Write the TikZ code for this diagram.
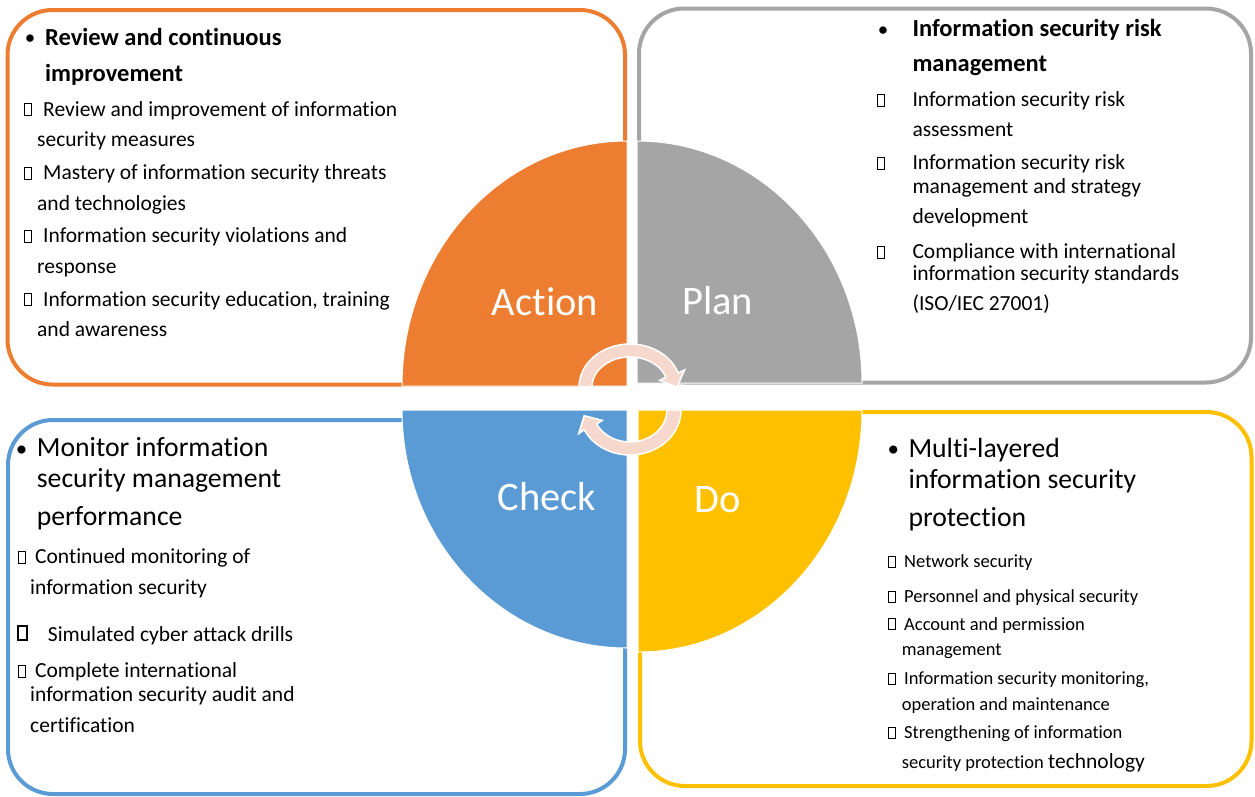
\documentclass[tikz,border=0pt]{standalone}
\usepackage{fontspec}
\setmainfont{Carlito}[Ligatures=NoCommon]
\definecolor{cOrange}{HTML}{ED7D31}
\definecolor{cGray}{HTML}{A5A5A5}
\definecolor{cBlue}{HTML}{5B9BD5}
\definecolor{cYellow}{HTML}{FFC000}
\definecolor{cArrow}{HTML}{F6D8CD}
\begin{document}
\begin{tikzpicture}[x=1pt,y=-1pt,
  boxframe/.style={line width=4pt, rounded corners=45pt, fill=white},
  quad/.style={draw=white, line width=1pt},
  lbl/.style={text=white, font=\fontsize{40.5}{48}\selectfont, anchor=base, inner sep=0},
  hb/.style={anchor=base west, inner sep=0, font=\bfseries\fontsize{24.5}{29}\selectfont},
  hr/.style={anchor=base west, inner sep=0, font=\fontsize{27.7}{33}\selectfont},
  tx/.style={anchor=base west, inner sep=0, font=\fontsize{21.5}{26}\selectfont},
  ts/.style={anchor=base west, inner sep=0, font=\fontsize{18.5}{22}\selectfont},
  bulb/.style={anchor=base, inner sep=0, font=\fontsize{21}{25}\selectfont},
  bulr/.style={anchor=base, inner sep=0, font=\fontsize{23}{27}\selectfont},
  gl/.style={draw, line width=0.8pt, minimum width=7pt, minimum height=12pt, inner sep=0, anchor=south},
  arr/.style={fill=cArrow, draw=white, line width=1.5pt, line join=miter}
]
\useasboundingbox (0,0) rectangle (1255,796);
\fill[white] (0,0) rectangle (1255,796);

% frames
\draw[boxframe, draw=cOrange] (7.5,10) rectangle (625,384.5);
\draw[boxframe, draw=cGray] (639,8.5) rectangle (1251,382.5);
\draw[boxframe, draw=cBlue] (8,420) rectangle (625,794);
\draw[boxframe, draw=cYellow] (640,412) rectangle (1251.5,786);

% quadrants
\draw[quad, fill=cOrange] (627,386) -- (402,386) arc (180:270:225 and 245) -- cycle;
\draw[quad, fill=cGray] (637,383) -- (637,141) arc (270:360:225 and 242) -- cycle;
\draw[quad, fill=cBlue] (627,410) -- (402,410) arc (180:90:225 and 238) -- cycle;
\draw[quad, fill=cYellow] (638,410) -- (862,410) arc (0:90:224 and 242) -- cycle;

\node[lbl] (lAction) at (545,315) {Action};
\node[lbl] (lPlan) at (717.5,314.3) {Plan};
\node[lbl] (lCheck) at (546.7,510) {Check};
\node[lbl] (lDo) at (717.5,512.3) {Do};

% circular arrows
\draw[arr] (579,387) arc (180:341:51 and 43) -- (684.5,369.9) -- (677.1,387.1) -- (659.7,380.3) -- (665.9,377.2) arc (341:180:38 and 30) -- cycle;
\draw[arr] (681,410) arc (0:154:51 and 45) -- (578.7,433.6) -- (584.2,415.7) -- (602.3,420.4) -- (596.7,424) arc (154:0:37 and 32) -- cycle;

% Action box text
\node[bulb] (ab0) at (30,44) {•};
\node[hb] (ah1) at (45,45) {Review and continuous};
\node[hb] (ah2) at (45,81) {improvement};
\node[gl] (ag1) at (28,116) {};
\node[tx] (a11) at (43,116) {Review and improvement of information};
\node[tx] (a12) at (37,146.7) {security measures};
\node[gl] (ag2) at (28,179.3) {};
\node[tx] (a21) at (43,179.3) {Mastery of information security threats};
\node[tx] (a22) at (37,210) {and technologies};
\node[gl] (ag3) at (28,242.7) {};
\node[tx] (a31) at (43,242.7) {Information security violations and};
\node[tx] (a32) at (37,273) {response};
\node[gl] (ag4) at (28,306) {};
\node[tx] (a41) at (43,306) {Information security education, training};
\node[tx] (a42) at (37,336.7) {and awareness};

% Plan box text
\node[bulb] (pb0) at (883,36) {•};
\node[hb] (ph1) at (912.3,36.7) {Information security risk};
\node[hb] (ph2) at (912.3,71.7) {management};
\node[gl] (pg1) at (880.5,106.7) {};
\node[tx] (p11) at (912.3,106.7) {Information security risk};
\node[tx] (p12) at (912.3,136.7) {assessment};
\node[gl] (pg2) at (880.5,169.3) {};
\node[tx] (p21) at (912.3,169.3) {Information security risk};
\node[tx] (p22) at (912.3,193.3) {management and strategy};
\node[tx] (p23) at (912.3,223.3) {development};
\node[gl] (pg3) at (880.5,258.3) {};
\node[tx] (p31) at (912.3,258.3) {Compliance with international};
\node[tx] (p32) at (912.3,280) {information security standards};
\node[tx] (p33) at (912.3,310) {(ISO/IEC 27001)};

% Check box text
\node[bulr] (cb0) at (21.7,456) {•};
\node[hr] (ch1) at (36.7,456.7) {Monitor information};
\node[hr] (ch2) at (36.7,487.7) {security management};
\node[hr] (ch3) at (36.7,525) {performance};
\node[gl] (cg1) at (21.7,563.3) {};
\node[tx] (c11) at (35,563.3) {Continued monitoring of};
\node[tx] (c12) at (30,594.3) {information security};
\node[gl, line width=1.8pt, minimum width=9pt, minimum height=14pt] (cg2) at (22.3,641) {};
\node[tx] (c21) at (47.7,641) {Simulated cyber attack drills};
\node[gl] (cg3) at (21.7,677.7) {};
\node[tx] (c31) at (35,677.7) {Complete international};
\node[tx] (c32) at (30,701.7) {information security audit and};
\node[tx] (c33) at (30,732.3) {certification};

% Do box text
\node[bulr] (db0) at (893.3,456.5) {•};
\node[hr] (dh1) at (908.3,457.3) {Multi-layered};
\node[hr] (dh2) at (908.3,488.3) {information security};
\node[hr] (dh3) at (908.3,526.7) {protection};
\node[gl, minimum width=6.5pt, minimum height=11pt] (dg1) at (891.7,567.7) {};
\node[ts] (d11) at (904,567.7) {Network security};
\node[gl, minimum width=6.5pt, minimum height=11pt] (dg2) at (891.7,602.7) {};
\node[ts] (d21) at (904,602.7) {Personnel and physical security};
\node[gl, minimum width=6.5pt, minimum height=11pt] (dg3) at (891.7,630) {};
\node[ts] (d31) at (904,630) {Account and permission};
\node[ts] (d32) at (901.7,655) {management};
\node[gl, minimum width=6.5pt, minimum height=11pt] (dg4) at (891.7,684.3) {};
\node[ts] (d41) at (904,684.3) {Information security monitoring,};
\node[ts] (d42) at (901.7,710) {operation and maintenance};
\node[gl, minimum width=6.5pt, minimum height=11pt] (dg5) at (891.7,738.3) {};
\node[ts] (d51) at (904,738.3) {Strengthening of information};
\node[ts] (d52) at (901.7,768.3) {security protection {\fontsize{21.5}{26}\selectfont technology}};
\end{tikzpicture}
\end{document}
